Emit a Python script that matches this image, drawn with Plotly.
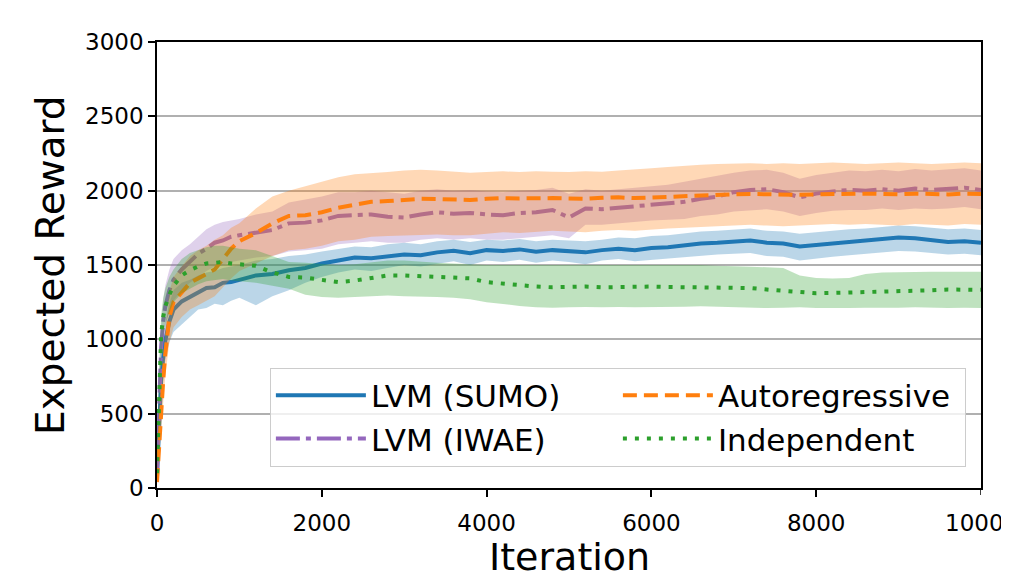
import plotly.graph_objects as go

ITER = [0, 25, 50, 75, 100, 150, 200, 300, 400, 500, 600, 700, 800, 900,
        1000, 1200, 1400, 1600, 1800, 2000, 2200, 2400, 2600, 2800, 3000,
        3200, 3400, 3600, 3800, 4000, 4200, 4400, 4600, 4800, 5000, 5200,
        5400, 5600, 5800, 6000, 6200, 6400, 6600, 6800, 7000, 7200, 7400,
        7600, 7800, 8000, 8200, 8400, 8600, 8800, 9000, 9200, 9400, 9600,
        9800, 10000]

X_TICKS = [0, 2000, 4000, 6000, 8000, 10000]
X_TICK_TEXT = ["0", "2000", "4000", "6000", "8000", "10000"]
Y_TICKS = [0, 500, 1000, 1500, 2000, 2500, 3000]

SUMO_MEAN = [80, 500, 720, 880, 990, 1120, 1200, 1255, 1285, 1320, 1345, 1350, 1380, 1385,
             1400, 1430, 1440, 1465, 1480, 1510, 1530, 1550, 1545, 1560, 1570,
             1565, 1585, 1595, 1580, 1600, 1595, 1605, 1590, 1600, 1595, 1585,
             1600, 1610, 1600, 1615, 1620, 1635, 1645, 1650, 1660, 1665, 1650,
             1645, 1625, 1635, 1645, 1655, 1660, 1670, 1685, 1680, 1670, 1655,
             1660, 1650]
SUMO_LOW = [50, 420, 620, 760, 860, 980, 1050, 1100, 1150, 1200, 1210, 1240, 1230, 1260,
            1280, 1230, 1290, 1330, 1380, 1420, 1450, 1470, 1460, 1480, 1500,
            1490, 1510, 1525, 1500, 1530, 1520, 1535, 1515, 1530, 1520, 1505,
            1530, 1540, 1525, 1535, 1540, 1550, 1560, 1570, 1575, 1580, 1560,
            1555, 1530, 1545, 1555, 1565, 1575, 1580, 1595, 1590, 1580, 1570,
            1575, 1565]
SUMO_HIGH = [110, 600, 820, 990, 1100, 1240, 1330, 1380, 1400, 1430, 1450, 1460, 1480, 1490,
             1500, 1530, 1540, 1560, 1570, 1590, 1610, 1625, 1620, 1640, 1650,
             1640, 1660, 1670, 1655, 1670, 1665, 1675, 1660, 1670, 1665, 1660,
             1670, 1685, 1680, 1695, 1700, 1715, 1725, 1730, 1740, 1745, 1730,
             1725, 1710, 1720, 1730, 1740, 1745, 1755, 1765, 1760, 1750, 1740,
             1745, 1735]

IWAE_MEAN = [90, 650, 950, 1120, 1220, 1330, 1400, 1470, 1520, 1575, 1610, 1650, 1665, 1690,
             1700, 1720, 1735, 1780, 1785, 1800, 1830, 1835, 1840, 1825, 1820,
             1840, 1855, 1845, 1850, 1840, 1835, 1850, 1855, 1870, 1820, 1880,
             1875, 1885, 1895, 1905, 1915, 1925, 1945, 1960, 1990, 2005, 2010,
             1990, 1955, 1980, 1995, 2005, 2000, 2010, 2000, 2015, 2005, 2010,
             2020, 2005]
IWAE_LOW = [60, 550, 820, 980, 1080, 1190, 1260, 1330, 1380, 1420, 1460, 1490, 1500, 1520,
            1530, 1550, 1560, 1590, 1600, 1610, 1640, 1650, 1660, 1650, 1650,
            1670, 1680, 1670, 1680, 1670, 1670, 1680, 1690, 1700, 1680, 1770,
            1770, 1780, 1790, 1800, 1805, 1810, 1830, 1840, 1860, 1870, 1875,
            1860, 1830, 1850, 1865, 1870, 1870, 1880, 1870, 1880, 1875, 1880,
            1890, 1875]
IWAE_HIGH = [120, 760, 1080, 1260, 1360, 1470, 1540, 1600, 1640, 1690, 1740, 1770, 1790, 1800,
             1810, 1840, 1860, 1920, 1940, 1960, 1990, 1990, 2000, 1990, 1980,
             2000, 2010, 2000, 2005, 1995, 1990, 2000, 2005, 2020, 1980, 2010,
             2000, 2010, 2020, 2030, 2040, 2060, 2080, 2100, 2120, 2135, 2140,
             2120, 2080, 2105, 2120, 2135, 2130, 2140, 2130, 2145, 2135, 2140,
             2150, 2135]

AUTO_MEAN = [40, 300, 520, 720, 900, 1150, 1250, 1320, 1380, 1410, 1440, 1470, 1540, 1610,
             1660, 1715, 1780, 1830, 1835, 1855, 1885, 1905, 1925, 1930, 1937,
             1945, 1944, 1940, 1937, 1945, 1950, 1948, 1952, 1950, 1948, 1945,
             1952, 1955, 1950, 1955, 1960, 1965, 1970, 1975, 1975, 1978, 1975,
             1970, 1972, 1975, 1978, 1975, 1980, 1978, 1975, 1980, 1978, 1975,
             1980, 1978]
AUTO_LOW = [20, 200, 400, 580, 750, 980, 1080, 1150, 1200, 1230, 1260, 1290, 1350, 1410,
            1460, 1510, 1560, 1600, 1610, 1630, 1660, 1670, 1690, 1695, 1700,
            1705, 1705, 1700, 1700, 1710, 1720, 1715, 1725, 1730, 1725, 1720,
            1730, 1735, 1730, 1740, 1745, 1750, 1755, 1760, 1765, 1770, 1765,
            1760, 1765, 1770, 1775, 1770, 1775, 1770, 1765, 1775, 1770, 1765,
            1775, 1770]
AUTO_HIGH = [60, 420, 660, 880, 1060, 1320, 1420, 1490, 1560, 1600, 1630, 1670, 1700, 1750,
             1780, 1880, 1960, 2000, 2030, 2055, 2090, 2110, 2115, 2125, 2135,
             2140, 2135, 2125, 2120, 2125, 2130, 2125, 2130, 2128, 2125, 2130,
             2128, 2135, 2140, 2150, 2160, 2170, 2175, 2180, 2182, 2185, 2180,
             2185, 2180, 2185, 2190, 2185, 2180, 2185, 2190, 2185, 2180, 2185,
             2190, 2185]

INDEP_MEAN = [100, 700, 1030, 1150, 1220, 1300, 1360, 1430, 1465, 1490, 1510, 1515, 1520, 1510,
              1505, 1495, 1450, 1420, 1415, 1400, 1385, 1395, 1410, 1430, 1430,
              1425, 1420, 1415, 1410, 1385, 1375, 1360, 1355, 1350, 1352, 1355,
              1350, 1352, 1355, 1355, 1352, 1350, 1352, 1350, 1348, 1345, 1335,
              1325, 1315, 1310, 1312, 1315, 1318, 1318, 1320, 1322, 1330, 1335,
              1335, 1333]
INDEP_LOW = [60, 550, 880, 1020, 1100, 1180, 1250, 1310, 1340, 1370, 1390, 1400, 1405, 1395,
             1390, 1380, 1360, 1340, 1300, 1285, 1280, 1285, 1290, 1295, 1290,
             1290, 1285, 1280, 1270, 1250, 1235, 1225, 1215, 1212, 1215, 1218,
             1215, 1218, 1215, 1215, 1218, 1220, 1222, 1218, 1215, 1212, 1210,
             1212, 1215, 1210, 1208, 1210, 1212, 1210, 1212, 1215, 1212, 1210,
             1212, 1210]
INDEP_HIGH = [140, 820, 1160, 1280, 1340, 1420, 1470, 1540, 1580, 1600, 1620, 1630, 1630, 1620,
              1610, 1600, 1560, 1520, 1515, 1510, 1500, 1505, 1515, 1530, 1530,
              1520, 1515, 1510, 1505, 1500, 1500, 1500, 1500, 1500, 1502, 1500,
              1500, 1502, 1500, 1500, 1500, 1500, 1500, 1495, 1490, 1488, 1485,
              1480, 1430, 1412, 1410, 1412, 1440, 1450, 1452, 1455, 1455, 1455,
              1455, 1455]

SERIES = [
    ("LVM (SUMO)", SUMO_MEAN, SUMO_LOW, SUMO_HIGH, "#1f77b4", "rgba(31,119,180,0.3)", "solid", 1),
    ("LVM (IWAE)", IWAE_MEAN, IWAE_LOW, IWAE_HIGH, "#9467bd", "rgba(148,103,189,0.3)", "24px,6px,5px,6px", 3),
    ("Autoregressive", AUTO_MEAN, AUTO_LOW, AUTO_HIGH, "#ff7f0e", "rgba(255,127,14,0.3)", "14px,7px", 2),
    ("Independent", INDEP_MEAN, INDEP_LOW, INDEP_HIGH, "#2ca02c", "rgba(44,160,44,0.3)", "4px,8px", 4),
]

fig = go.Figure()
for name, mean, low, high, color, fillc, dash, rank in SERIES:
    fig.add_trace(go.Scatter(x=ITER, y=low, mode="lines", line=dict(width=0, color=fillc),
                             showlegend=False, hoverinfo="skip"))
    fig.add_trace(go.Scatter(x=ITER, y=high, mode="lines", line=dict(width=0, color=fillc),
                             fill="tonexty", fillcolor=fillc, showlegend=False, hoverinfo="skip"))
    fig.add_trace(go.Scatter(x=ITER, y=mean, mode="lines", name=name, legendrank=rank,
                             line=dict(color=color, width=4, dash=dash)))

font = "DejaVu Sans, Arial, sans-serif"
TICK_SIZE = 23
fig.update_layout(
    width=1001, height=565,
    margin=dict(l=149, r=28, t=34, b=85, autoexpand=False),
    paper_bgcolor="white", plot_bgcolor="white",
    font=dict(family=font, color="black", size=TICK_SIZE),
    showlegend=True,
    legend=dict(
        orientation="h", traceorder="normal", x=0.137, y=0.27, xanchor="left", yanchor="top",
        entrywidth=242, entrywidthmode="pixels",
        font=dict(size=31, family=font), bgcolor="rgba(255,255,255,0.8)",
        bordercolor="#cccccc", borderwidth=1, itemwidth=90,
    ),
    xaxis=dict(
        range=[0, 10000], tickvals=X_TICKS[:-1], ticktext=X_TICK_TEXT[:-1],
        showgrid=False, zeroline=False, showline=True, linecolor="black", linewidth=1.5,
        mirror=True, ticks="outside", ticklen=7, tickwidth=1.5, tickcolor="black",
        tickfont=dict(size=TICK_SIZE), automargin=False, ticklabelstandoff=7,
    ),
    yaxis=dict(
        range=[0, 3000], tickvals=Y_TICKS,
        showgrid=True, gridcolor="#b0b0b0", gridwidth=1.5, zeroline=False,
        showline=True, linecolor="black", linewidth=1.5,
        mirror=True, ticks="outside", ticklen=7, tickwidth=1.5, tickcolor="black",
        tickfont=dict(size=TICK_SIZE), automargin=False,
    ),
)

# Last x tick (10000): its label runs off the right edge, as in the reference
fig.add_shape(type="line", xref="x", yref="paper", x0=X_TICKS[-1], x1=X_TICKS[-1], y0=0, y1=-0.0157,
              line=dict(color="black", width=1.5))
fig.add_annotation(x=X_TICKS[-1], xref="x", y=-0.0785, yref="paper", text=X_TICK_TEXT[-1],
                   showarrow=False, xanchor="center", yanchor="middle",
                   font=dict(size=TICK_SIZE, family=font, color="black"))
# Axis titles
fig.add_annotation(x=0.5, xref="paper", y=-0.101, yref="paper", text="Iteration",
                   showarrow=False, xanchor="center", yanchor="top",
                   font=dict(size=38, family=font, color="black"))
fig.add_annotation(x=-0.1299, xref="paper", y=0.5, yref="paper", text="Expected Reward",
                   textangle=-90, showarrow=False, xanchor="center", yanchor="middle",
                   font=dict(size=39, family=font, color="black"))

fig.write_html("out.html")
